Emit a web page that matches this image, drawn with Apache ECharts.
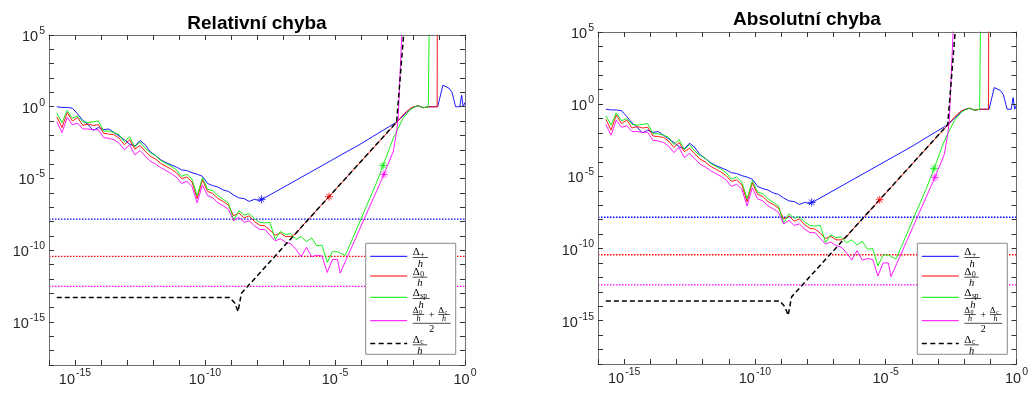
<!DOCTYPE html>
<html><head><meta charset="utf-8">
<script src="https://cdn.jsdelivr.net/npm/echarts@6/dist/echarts.min.js"></script>
<style>html,body{margin:0;padding:0;background:#fff}#c{width:1031px;height:393px}</style>
</head><body><div id="c"></div>
<script>
// log10(h) grid of the noisy (round-off dominated) part
const hGrid = [-15.7,-15.5,-15.3,-15.1,-14.9,-14.7,-14.5,-14.3,-14.1,-13.9,-13.7,-13.5,-13.3,-13.1,-12.9,-12.7,-12.5,-12.3,-12.1,-11.9,-11.7,-11.5,-11.3,-11.1,-10.9,-10.7,-10.5,-10.3,-10.1,-9.9,-9.7,-9.5,-9.3,-9.1,-8.9,-8.7,-8.5,-8.3,-8.1,-7.9,-7.7,-7.5,-7.3,-7.1,-6.9,-6.7,-6.5,-6.3,-6.1,-5.9,-5.7,-5.5,-5.3,-5.1,-4.9,-4.7];

const xRange = [-16, 0];          // log10 h
const yRange = [-18, 5];          // log10 error
const labelStep = 5;              // a label every 5 decades
const floorLevels = [-7.83,-10.43,-12.52];   // log10 of dotted levels (blue, red, magenta)

// ---- Relativní chyba (log10 values) ----
const relPlusNoise = [0.0,-0.05,-0.05,-0.10,-0.50,-0.95,-1.25,-1.65,-1.45,-1.60,-1.55,-1.80,-2.05,-2.30,-2.60,-2.75,-2.35,-2.65,-3.15,-3.40,-3.70,-3.90,-4.05,-4.20,-4.40,-4.45,-4.60,-4.70,-4.85,-5.35,-5.50,-5.60,-5.80,-5.90,-6.15,-6.35,-6.40,-6.60,-6.45,-6.55];
const relPlusTail = [[-7.83,-6.45],[-4.04,-2.62],[-2.63,-1.07],[-2.25,-0.42],[-1.99,-0.02],[-1.8,0.07],[-1.6,-0.07],[-1.4,0.0],[-1.05,0.0],[-0.85,1.5],[-0.62,1.3],[-0.5,1.0],[-0.36,0.0],[-0.2,0.0],[-0.13,0.8],[-0.07,0.0],[0,0.3]];
const relZeroNoise = [-0.70,-1.45,-0.40,-1.00,-0.75,-1.30,-1.20,-1.30,-1.25,-1.85,-1.90,-1.95,-2.20,-2.65,-2.30,-2.95,-2.70,-3.10,-3.45,-3.65,-3.95,-4.15,-4.35,-4.60,-5.00,-4.90,-5.25,-6.40,-5.10,-5.90,-6.05,-6.40,-6.60,-6.85,-7.60,-7.40,-7.75,-7.60,-8.00,-8.25,-8.30,-8.60,-8.95,-8.80,-9.05,-9.05,-8.85];
const relZeroTail = [[-6.3,-8.4],[-5.23,-6.27],[-4.04,-3.9],[-2.63,-1.1],[-2.35,-0.5],[-2.1,-0.1],[-1.92,0.0],[-1.8,0.07],[-1.6,-0.07],[-1.4,0.0],[-1.07,0.0],[-1.065,7]];
const relSpNoise = [-0.45,-1.10,-0.25,-0.80,-0.65,-1.05,-1.10,-1.05,-1.00,-1.70,-1.70,-1.80,-1.95,-2.45,-2.10,-2.80,-2.45,-2.90,-3.20,-3.40,-3.75,-3.95,-4.15,-4.40,-4.85,-4.70,-5.05,-6.20,-4.95,-5.75,-5.85,-6.20,-6.45,-6.70,-7.90,-7.25,-7.55,-7.45,-7.80,-8.05,-8.10,-8.05,-9.25,-8.70,-8.90,-8.85,-9.25,-9.05,-9.40,-9.15,-9.70,-9.65,-10.85,-10.10,-10.10,-10.30];
const relSpTail = [[-4.6,-10.35],[-3.45,-5.5],[-3.15,-4.1],[-2.76,-2.2],[-2.38,-0.8],[-2.12,-0.23],[-1.92,0.0],[-1.8,0.07],[-1.6,-0.07],[-1.41,0.0],[-1.375,0.0],[-1.37,7]];
const relAvgNoise = [-1.05,-1.80,-0.75,-1.25,-1.15,-1.55,-1.55,-1.60,-1.60,-2.15,-2.20,-2.30,-2.55,-3.00,-2.65,-3.35,-3.05,-3.45,-3.80,-4.00,-4.25,-4.45,-4.65,-4.90,-5.35,-5.20,-5.55,-6.70,-5.45,-6.20,-6.35,-6.70,-6.90,-7.15,-7.95,-7.70,-8.05,-7.95,-8.30,-8.55,-8.55,-8.95,-9.35,-9.20,-9.45,-9.55,-9.95,-10.45,-9.80,-10.45,-10.35,-10.40,-11.55,-10.65,-10.65];
const relAvgTail = [[-4.8,-11.6],[-3.27,-5.34],[-3.12,-4.72],[-2.76,-3.13],[-2.63,-1.74],[-2.57,-0.8],[-2.5,2.2],[-2.42,5.5],[-2.38,7]];
const relCentral = [[-15.7,-13.29],[-9.05,-13.29],[-8.85,-13.7],[-8.73,-14.28],[-8.6,-13.0],[-2.63,-1.07],[-2.3,6.4]];
const relStars = [[-7.83,-6.45],[-5.23,-6.27],[-3.15,-4.1],[-3.12,-4.72]];

// ---- Absolutní chyba (log10 values) ----
const absPlusNoise = [-0.35,-0.40,-0.40,-0.45,-0.85,-1.30,-1.60,-2.00,-1.80,-1.95,-1.90,-2.15,-2.40,-2.65,-2.95,-3.10,-2.70,-3.00,-3.50,-3.75,-4.05,-4.25,-4.40,-4.55,-4.75,-4.80,-4.95,-5.05,-5.20,-5.70,-5.85,-5.95,-6.15,-6.25,-6.50,-6.70,-6.75,-6.95,-6.80,-6.90];
const absPlusTail = [[-7.83,-6.80],[-4.04,-2.97],[-2.63,-1.42],[-2.25,-0.77],[-1.99,-0.37],[-1.8,-0.28],[-1.6,-0.42],[-1.4,-0.35],[-1.05,-0.35],[-0.85,1.15],[-0.62,0.95],[-0.5,0.65],[-0.36,-0.35],[-0.2,-0.35],[-0.13,0.45],[-0.07,-0.35],[0,-0.05]];
const absZeroNoise = [-1.05,-1.80,-0.75,-1.35,-1.10,-1.65,-1.55,-1.65,-1.60,-2.20,-2.25,-2.30,-2.55,-3.00,-2.65,-3.30,-3.05,-3.45,-3.80,-4.00,-4.30,-4.50,-4.70,-4.95,-5.35,-5.25,-5.60,-6.75,-5.45,-6.25,-6.40,-6.75,-6.95,-7.20,-7.95,-7.75,-8.10,-7.95,-8.35,-8.60,-8.65,-8.95,-9.30,-9.15,-9.40,-9.40,-9.20];
const absZeroTail = [[-6.3,-8.75],[-5.23,-6.62],[-4.04,-4.25],[-2.63,-1.45],[-2.35,-0.85],[-2.1,-0.45],[-1.92,-0.35],[-1.8,-0.28],[-1.6,-0.42],[-1.4,-0.35],[-1.07,-0.35],[-1.065,7]];
const absSpNoise = [-0.80,-1.45,-0.60,-1.15,-1.00,-1.40,-1.45,-1.40,-1.35,-2.05,-2.05,-2.15,-2.30,-2.80,-2.45,-3.15,-2.80,-3.25,-3.55,-3.75,-4.10,-4.30,-4.50,-4.75,-5.20,-5.05,-5.40,-6.55,-5.30,-6.10,-6.20,-6.55,-6.80,-7.05,-8.25,-7.60,-7.90,-7.80,-8.15,-8.40,-8.45,-8.40,-9.60,-9.05,-9.25,-9.20,-9.60,-9.40,-9.75,-9.50,-10.05,-10.00,-11.20,-10.45,-10.45,-10.65];
const absSpTail = [[-4.6,-10.7],[-3.45,-5.85],[-3.15,-4.45],[-2.76,-2.55],[-2.38,-1.15],[-2.12,-0.58],[-1.92,-0.35],[-1.8,-0.28],[-1.6,-0.42],[-1.41,-0.35],[-1.375,-0.35],[-1.37,7]];
const absAvgNoise = [-1.40,-2.15,-1.10,-1.60,-1.50,-1.90,-1.90,-1.95,-1.95,-2.50,-2.55,-2.65,-2.90,-3.35,-3.00,-3.70,-3.40,-3.80,-4.15,-4.35,-4.60,-4.80,-5.00,-5.25,-5.70,-5.55,-5.90,-7.05,-5.80,-6.55,-6.70,-7.05,-7.25,-7.50,-8.30,-8.05,-8.40,-8.30,-8.65,-8.90,-8.90,-9.30,-9.70,-9.55,-9.80,-9.90,-10.30,-10.80,-10.15,-10.80,-10.70,-10.75,-11.90,-11.00,-11.00];
const absAvgTail = [[-4.8,-11.95],[-3.27,-5.69],[-3.12,-5.07],[-2.76,-3.48],[-2.63,-2.09],[-2.57,-1.15],[-2.5,1.85],[-2.42,5.15],[-2.38,7]];
const absCentral = [[-15.7,-13.64],[-9.05,-13.64],[-8.85,-14.05],[-8.73,-14.63],[-8.6,-13.35],[-2.63,-1.42],[-2.3,6.05]];
const absStars = [[-7.83,-6.80],[-5.23,-6.62],[-3.15,-4.45],[-3.12,-5.07]];

const titles = ['Relativní chyba', 'Absolutní chyba'];
const legendSubs = ['+', '0', 'sp', '', 'c'];

const C = {blue:'#0000ff', red:'#ff0000', green:'#00ee00', mag:'#ff00ff', black:'#000000'};
const AX = '#6e6e6e', TICK = '#333333', LBL = '#262626';
const STAR = 'path://M5,0L5,10M0,5L10,5M1.5,1.5L8.5,8.5M1.5,8.5L8.5,1.5';

function zip(noise, tail) { return noise.map((v, i) => [hGrid[i], v]).concat(tail); }

const rich = {
  b: {fontSize: 14.5, fontFamily: 'Liberation Sans, Arial', color: LBL, verticalAlign: 'bottom'},
  s: {fontSize: 10.5, fontFamily: 'Liberation Sans, Arial', color: LBL, verticalAlign: 'bottom', padding: [0, 0, 8, 1]}
};
const fmt = v => (Math.round(v) % labelStep === 0) ? '{b|10}{s|' + Math.round(v) + '}' : '';

const grids = [{left: 49, top: 35, width: 416, height: 330}, {left: 598, top: 32, width: 420, height: 332}];
const xAxes = [], yAxes = [], series = [];
grids.forEach((g, gi) => {
  const mk = () => ({
    line: {show: true, onZero: false, lineStyle: {color: AX, width: 1}},
    tick: {show: true, inside: true, length: 5, interval: 0, lineStyle: {color: TICK, width: 1}}
  });
  const ax = (pos, isX, labels) => {
    const m = mk();
    return {gridIndex: gi, type: 'value', position: pos, min: isX ? xRange[0] : yRange[0], max: isX ? xRange[1] : yRange[1],
      interval: 1, axisLine: m.line, axisTick: m.tick, splitLine: {show: false}, z: 10,
      axisLabel: labels ? {show: true, formatter: fmt, rich: rich, margin: isX ? 3 : 4, showMinLabel: true, showMaxLabel: true}
                        : {show: false}};
  };
  xAxes.push(ax('bottom', true, true));
  xAxes.push(ax('top', true, false));
  yAxes.push(ax('left', false, true));
  yAxes.push(ax('right', false, false));
});

function lineS(gi, data, color, width, type, z) {
  return {type: 'line', xAxisIndex: gi * 2, yAxisIndex: gi * 2, data: data, symbol: 'none', showSymbol: false,
    lineStyle: {color: color, width: width, type: type || 'solid'}, silent: true, animation: false, z: z || 2, clip: true};
}
const sets = [
  [relPlusNoise, relPlusTail, relZeroNoise, relZeroTail, relSpNoise, relSpTail, relAvgNoise, relAvgTail, relCentral, relStars],
  [absPlusNoise, absPlusTail, absZeroNoise, absZeroTail, absSpNoise, absSpTail, absAvgNoise, absAvgTail, absCentral, absStars]
];
sets.forEach((s, gi) => {
  const fc = [C.blue, C.red, C.mag];
  floorLevels.forEach((lv, k) => series.push(lineS(gi, [[xRange[0], lv], [xRange[1], lv]], fc[k], 1.4, [1.5, 1.5], 1)));
  series.push(lineS(gi, zip(s[0], s[1]), C.blue, 0.9, 'solid', 2));
  series.push(lineS(gi, zip(s[2], s[3]), C.red, 0.9, 'solid', 3));
  series.push(lineS(gi, zip(s[4], s[5]), C.green, 0.9, 'solid', 4));
  series.push(lineS(gi, zip(s[6], s[7]), C.mag, 0.9, 'solid', 5));
  series.push(lineS(gi, s[8], C.black, 1.5, [5, 3], 6));
  const sc = [C.blue, C.red, C.green, C.mag];
  s[9].forEach((p, k) => series.push({type: 'scatter', xAxisIndex: gi * 2, yAxisIndex: gi * 2, data: [p], symbol: STAR, symbolSize: 8,
    itemStyle: {color: 'none', borderColor: sc[k], borderWidth: 1}, silent: true, animation: false, z: 7}));
});

// ---------- legends & titles (graphic) ----------
const SERIF = 'Liberation Serif, Times New Roman, serif';
function txt(x, y, t, fs, opts) {
  return {type: 'text', x: x, y: y, z: 101, style: Object.assign({text: t, fontSize: fs, fontFamily: SERIF, fill: '#000', align: 'left', verticalAlign: 'bottom'}, opts || {})};
}
function bar(x1, x2, y) { return {type: 'line', z: 101, shape: {x1: x1, y1: y, x2: x2, y2: y}, style: {stroke: '#000', lineWidth: 0.7}}; }
function simpleFrac(tx, ly, sub, w) {
  return [txt(tx, ly + 1.6, 'Δ', 11), txt(tx + 7.6, ly + 2.6, sub, 7.5), bar(tx, tx + w, ly + 1.2),
    txt(tx + w / 2, ly + 2.2, 'h', 10.5, {fontStyle: 'italic', align: 'center', verticalAlign: 'top'})];
}
function smallFrac(tx, ly, sub) {
  return [txt(tx, ly - 5.6, 'Δ', 9), txt(tx + 6.3, ly - 5, sub, 6), bar(tx, tx + 11.5, ly - 6.2),
    txt(tx + 5.7, ly - 6.2, 'h', 8, {fontStyle: 'italic', align: 'center', verticalAlign: 'top'})];
}
function legendGroup(x0, y0) {
  const els = [{type: 'rect', z: 100, shape: {x: x0, y: y0, width: 90, height: 111}, style: {fill: '#fff', stroke: '#8a8a8a', lineWidth: 1}}];
  const rows = [13, 32.7, 54, 77.4, 100.3];
  const cols = [C.blue, C.red, C.green, C.mag, C.black];
  const widths = [15.5, 14.5, 17, 0, 14.5];
  const lx1 = x0 + 4.5, lx2 = x0 + 41.5, tx = x0 + 47;
  rows.forEach((r, k) => {
    const ly = y0 + r;
    els.push({type: 'line', z: 101, shape: {x1: lx1, y1: ly, x2: lx2, y2: ly},
      style: {stroke: cols[k], lineWidth: k === 4 ? 1.5 : 1, lineDash: k === 4 ? [5, 3.5] : null}});
    if (k === 3) {
      els.push(...smallFrac(tx, ly, '0'));
      els.push(txt(tx + 19, ly - 5.5, '+', 10.5, {align: 'center', verticalAlign: 'middle'}));
      els.push(...smallFrac(tx + 25.5, ly, 'c'));
      els.push(bar(tx, tx + 38, ly + 2.6));
      els.push(txt(tx + 19, ly + 3.4, '2', 10, {align: 'center', verticalAlign: 'top'}));
    } else {
      els.push(...simpleFrac(tx, ly, legendSubs[k], widths[k]));
    }
  });
  return els;
}
const graphic = [
  {type: 'text', x: 257, y: 23.5, z: 100, style: {text: titles[0], fontSize: 19, fontWeight: 'bold', fontFamily: 'Liberation Sans, Arial', fill: '#000', align: 'center', verticalAlign: 'middle'}},
  {type: 'text', x: 807, y: 19.8, z: 100, style: {text: titles[1], fontSize: 19, fontWeight: 'bold', fontFamily: 'Liberation Sans, Arial', fill: '#000', align: 'center', verticalAlign: 'middle'}}
].concat(legendGroup(365.7, 243.3), legendGroup(917.3, 243.3));

const chart = echarts.init(document.getElementById('c'), null, {renderer: 'canvas'});
chart.setOption({animation: false, backgroundColor: '#fff', grid: grids, xAxis: xAxes, yAxis: yAxes, series: series, graphic: graphic});
</script></body></html>
